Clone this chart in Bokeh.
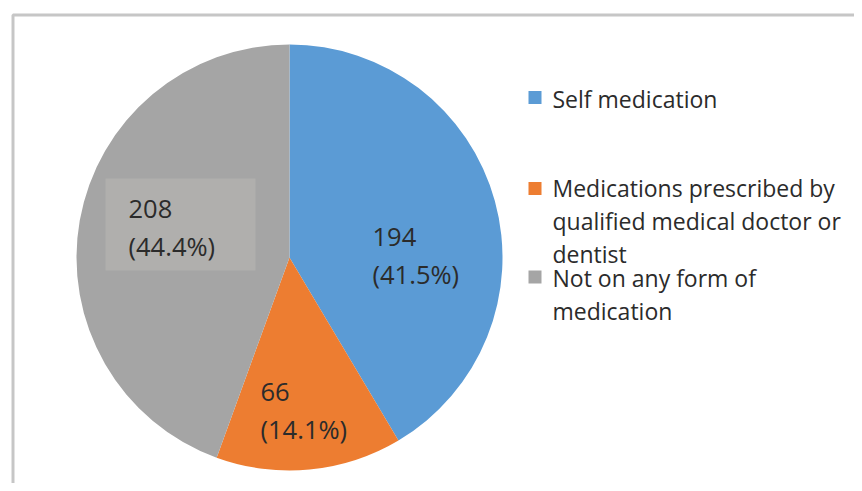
import numpy as np
from bokeh.plotting import figure
from bokeh.models import Range1d, ColumnDataSource
from bokeh.core.properties import value
from bokeh.embed import file_html
from bokeh.resources import INLINE

# ---- data ----
categories = ["Self medication",
              "Medications prescribed by\nqualified medical doctor or\ndentist",
              "Not on any form of\nmedication"]
counts = [194, 66, 208]
colors = ["#5B9BD5", "#ED7D31", "#A5A5A5"]

# ---- layout ----
W, H = 854, 483
FONT = "Open Sans"
TXT = "#2b2b2b"

p = figure(width=W, height=H, output_backend="svg", toolbar_location=None,
           x_range=Range1d(0, W), y_range=Range1d(0, H), min_border=0)
p.axis.visible = False
p.grid.visible = False
p.outline_line_color = None
p.background_fill_color = "white"
p.border_fill_color = "white"

# outer chart frame (left and top edges visible)
p.line(x=[12.5, 12.5, W + 20], y=[-20, 468.5, 468.5], line_color="#c6c6c6", line_width=3)

# ---- pie ----
cx, cy, r = 289, 226, 213
vals = np.array(counts, dtype=float)
frac = vals / vals.sum()
ends = np.pi / 2 - 2 * np.pi * np.cumsum(frac)
starts = np.concatenate([[np.pi / 2], ends[:-1]])
src = ColumnDataSource(dict(start=starts, end=ends, color=colors, cat=categories))
p.wedge(x=cx, y=cy, radius=r, start_angle="start", end_angle="end",
        direction="clock", fill_color="color", line_color=None, source=src)

# data labels
labels = [f"{c}\n({f * 100:.1f}%)" for c, f in zip(counts, frac)]
lab_x = [372, 260, 128]
lab_y = [228.5, 73.5, 256.5]
lab_fs = 25.5
# shaded label box for the grey slice
p.quad(left=[105], right=[255], bottom=[213], top=[305], fill_color="#b0afad", line_color=None)
p.text(x=lab_x, y=lab_y, text=labels, text_font=value(FONT), text_font_size=f"{lab_fs}px",
       text_color=TXT, text_align="left", text_baseline="middle",
       text_line_height=37 / (lab_fs * 1.30))

# ---- legend ----
leg_sq_x = 534.5
leg_first_line_y = [385, 294, 205]
line_h = 31.5
font_leg = 23
p.scatter(x=[leg_sq_x] * 3, y=[386, 295, 206.5], marker="square", size=13,
          fill_color=colors, line_color=None)
nlines = [c.count("\n") + 1 for c in categories]
leg_y = [y0 - (n - 1) * line_h / 2 for y0, n in zip(leg_first_line_y, nlines)]
p.text(x=[552] * 3, y=leg_y, text=categories, text_font=value(FONT),
       text_font_size=f"{font_leg}px", text_color=TXT, text_align="left",
       text_baseline="middle", text_line_height=line_h / (font_leg * 1.33))

open("out.html", "w").write(file_html(p, INLINE))
